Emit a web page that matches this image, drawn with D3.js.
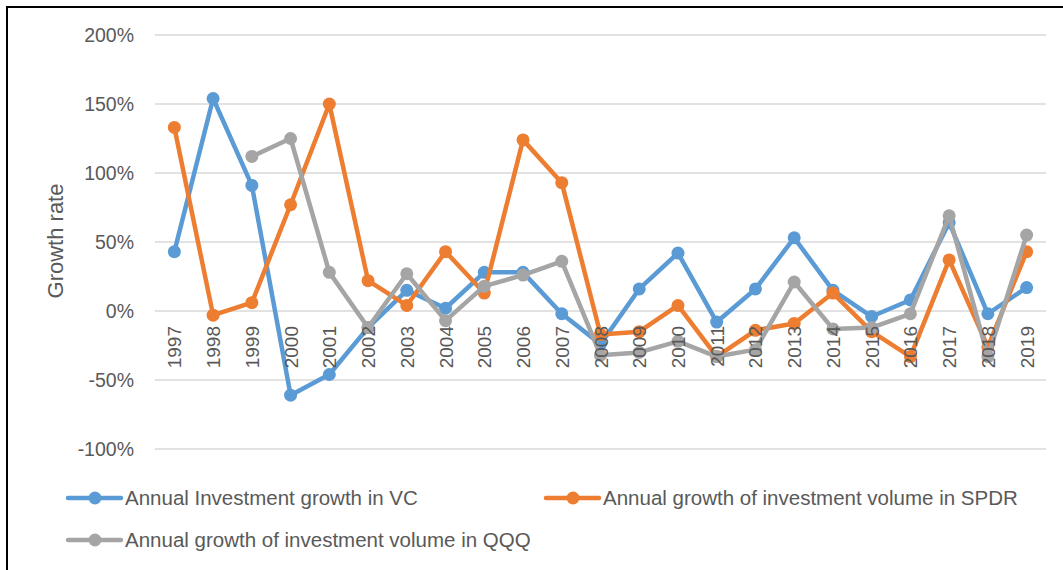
<!DOCTYPE html>
<html>
<head>
<meta charset="utf-8">
<script src="https://cdn.jsdelivr.net/npm/d3@7"></script>
<style>
  body { margin: 0; background: #fff; }
  svg text { font-family: "Liberation Sans", Arial, sans-serif; fill: #595959; }
</style>
</head>
<body>
<svg width="1063" height="570"></svg>
<script>
const years = ["1997","1998","1999","2000","2001","2002","2003","2004","2005","2006","2007","2008",
  "2009","2010","2011","2012","2013","2014","2015","2016","2017","2018","2019"];
const vcGrowth = [43, 154, 91, -61, -46, -12, 15, 2, 28, 28, -2, -24,
  16, 42, -8, 16, 53, 15, -4, 8, 64, -2, 17];
const spdrGrowth = [133, -3, 6, 77, 150, 22, 4, 43, 13, 124, 93, -17,
  -15, 4, -33, -14, -9, 13, -15, -33, 37, -26, 43];
const qqqGrowth = [null, null, 112, 125, 28, -12, 27, -7, 18, 26, 36, -32,
  -30, -22, -33, -28, 21, -13, -12, -2, 69, -33, 55];
const yTicks = [-100, -50, 0, 50, 100, 150, 200];
const seriesNames = ["Annual Investment growth in VC", "Annual growth of investment volume in SPDR",
  "Annual growth of investment volume in QQQ"];
const colors = ["#5B9BD5", "#ED7D31", "#A5A5A5"];

const svg = d3.select('svg');

// frame (only top/left visible in the original crop)
svg.append('rect')
  .attr('x', 7).attr('y', 7).attr('width', 1100).attr('height', 600)
  .attr('fill', 'none').attr('stroke', '#000').attr('stroke-width', 2);

const xScale = d3.scaleBand().domain(years).range([155, 1046]);
const yScale = d3.scaleLinear().domain([-100, 200]).range([449, 35]);
const cx = d => xScale(d) + xScale.bandwidth() / 2;

// gridlines
svg.selectAll('.grid')
  .data(yTicks)
  .enter()
  .append('line')
  .attr('x1', 155).attr('x2', 1046)
  .attr('y1', d => yScale(d)).attr('y2', d => yScale(d))
  .attr('stroke', '#D9D9D9').attr('stroke-width', 1.5);

// y tick labels
svg.selectAll('.ylab')
  .data(yTicks)
  .enter()
  .append('text')
  .attr('x', 134)
  .attr('y', d => yScale(d))
  .attr('dy', '0.35em')
  .attr('text-anchor', 'end')
  .style('font-size', '19.5px')
  .text(d => d + '%');

// axis title
svg.append('text')
  .attr('transform', 'translate(63,241) rotate(-90)')
  .attr('text-anchor', 'middle')
  .style('font-size', '22px')
  .text('Growth rate');

const allSeries = [vcGrowth, spdrGrowth, qqqGrowth];

const line = d3.line()
  .defined(d => d.v !== null)
  .x(d => cx(d.year))
  .y(d => yScale(d.v));

allSeries.forEach((vals, i) => {
  const pts = years.map((year, j) => ({ year: year, v: vals[j] }));
  const g = svg.append('g');
  g.append('path')
    .datum(pts)
    .attr('d', line)
    .attr('fill', 'none')
    .attr('stroke', colors[i])
    .attr('stroke-width', 4.5)
    .attr('stroke-linejoin', 'round');
  g.selectAll('circle')
    .data(pts.filter(p => p.v !== null))
    .enter()
    .append('circle')
    .attr('cx', p => cx(p.year))
    .attr('cy', p => yScale(p.v))
    .attr('r', 6.5)
    .attr('fill', colors[i]);
});

// year labels drawn over the lines, as in the original
svg.selectAll('.xlab')
  .data(years)
  .enter()
  .append('text')
  .attr('transform', d => `translate(${cx(d) + 7},326) rotate(-90)`)
  .attr('text-anchor', 'end')
  .style('font-size', '19px')
  .text(d => d);

// legend
const legendPos = [[68, 498], [546, 498], [68, 540]];
seriesNames.forEach((name, i) => {
  const [lx, ly] = legendPos[i];
  const lg = svg.append('g').attr('transform', `translate(${lx},${ly})`);
  lg.append('line')
    .attr('x1', 0).attr('x2', 53).attr('y1', 0).attr('y2', 0)
    .attr('stroke', colors[i]).attr('stroke-width', 4.5).attr('stroke-linecap', 'round');
  lg.append('circle').attr('cx', 27).attr('cy', 0).attr('r', 6.5).attr('fill', colors[i]);
  lg.append('text')
    .attr('x', 57).attr('y', 0).attr('dy', '0.35em')
    .style('font-size', '20.5px')
    .text(name);
});
</script>
</body>
</html>
